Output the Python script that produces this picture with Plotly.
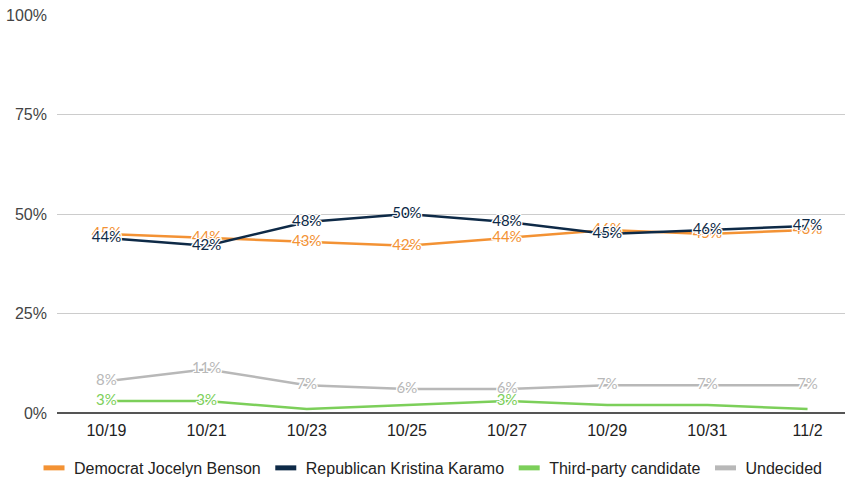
import plotly.graph_objects as go

dates = ["10/19", "10/21", "10/23", "10/25", "10/27", "10/29", "10/31", "11/2"]
benson = [45, 44, 43, 42, 44, 46, 45, 46]
karamo = [44, 42, 48, 50, 48, 45, 46, 47]
third = [3, 3, 1, 2, 3, 2, 2, 1]
undecided = [8, 11, 7, 6, 6, 7, 7, 7]
third_labeled = [True, True, False, False, True, False, False, False]

names = ["Democrat Jocelyn Benson", "Republican Kristina Karamo",
         "Third-party candidate", "Undecided"]
colors = ["#f39234", "#0e2a47", "#7ccf5a", "#b8b8b8"]

halo = ("white 1px 1px 0px, white -1px -1px 0px, white 1px -1px 0px, "
        "white -1px 1px 0px, white 0px 1px 0px, white 0px -1px 0px, "
        "white 1px 0px 0px, white -1px 0px 0px")

xs = list(range(len(dates)))

def lbl(vals, mask=None):
    return [f"{v}%" if (mask is None or mask[i]) else "" for i, v in enumerate(vals)]

series = [
    (3, undecided, lbl(undecided)),
    (2, third, lbl(third, third_labeled)),
    (0, benson, lbl(benson)),
    (1, karamo, lbl(karamo)),
]

fig = go.Figure()
for idx, vals, texts in series:
    fig.add_trace(go.Scatter(
        x=xs, y=vals, mode="lines+text", name=names[idx],
        text=texts, textposition="middle center",
        textfont=dict(family="Lato", size=15, color=colors[idx], shadow=halo),
        line=dict(color=colors[idx], width=2.5),
        showlegend=False, hoverinfo="skip",
    ))

# legend-only entries with short thick swatches
for i, nm in enumerate(names):
    fig.add_trace(go.Scatter(
        x=[None], y=[None], mode="markers", name=nm,
        marker=dict(symbol="line-ew-open", size=15, color=colors[i],
                    line=dict(color=colors[i], width=5)),
        legendrank=i + 1, hoverinfo="skip",
    ))

fig.update_layout(
    width=845, height=478,
    margin=dict(l=57, r=0, t=15, b=65),
    plot_bgcolor="white", paper_bgcolor="white",
    font=dict(family="Liberation Sans, Arial", size=16, color="#444444"),
    showlegend=True,
    legend=dict(orientation="h", x=0.474, xanchor="center",
                yref="container", y=0.021, yanchor="middle",
                font=dict(size=16, color="#222222"), itemwidth=30,
                traceorder="normal"),
    xaxis=dict(
        range=[-0.494, 7.374], tickmode="array", tickvals=xs, ticktext=dates,
        showgrid=False, zeroline=False, showline=False,
        tickfont=dict(size=16, color="#222222"), ticks="", ticklabelstandoff=6,
    ),
    yaxis=dict(
        range=[0, 100], tickvals=[0, 25, 50, 75, 100],
        ticktext=["0%", "25%", "50%", "75%", "100%"],
        showgrid=True, gridcolor="#cccccc", gridwidth=1,
        zeroline=True, zerolinecolor="#555555", zerolinewidth=2,
        tickfont=dict(size=16, color="#444444"), ticks="", ticklabelstandoff=9,
    ),
)

fig.write_html("out.html", config={"displayModeBar": False},
               post_script="document.body.style.margin='0';")
